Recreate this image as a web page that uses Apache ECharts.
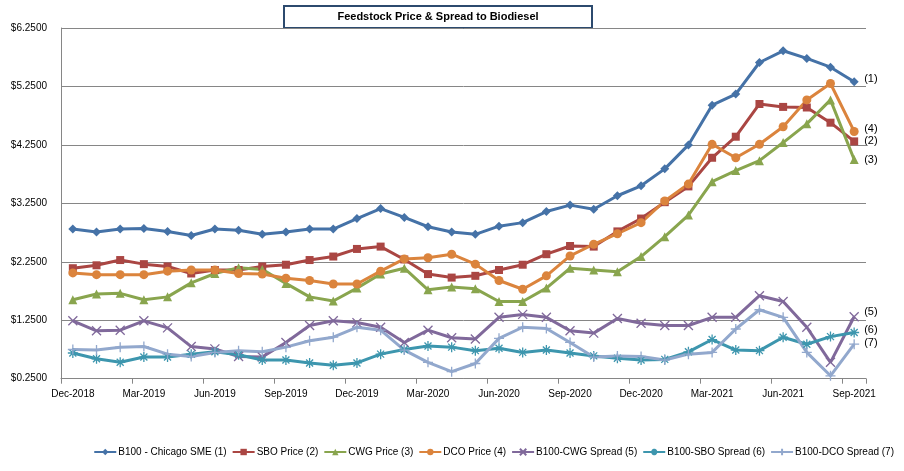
<!DOCTYPE html>
<html>
<head>
<meta charset="utf-8">
<script src="https://cdn.jsdelivr.net/npm/echarts@6/dist/echarts.min.js"></script>
<style>html,body{margin:0;padding:0;background:#fff;}#c{width:904px;height:471px;}</style>
</head>
<body>
<div id="c"></div>
<script>
const categories = ["Dec-2018","Jan-2019","Feb-2019","Mar-2019","Apr-2019","May-2019","Jun-2019","Jul-2019","Aug-2019","Sep-2019","Oct-2019","Nov-2019","Dec-2019","Jan-2020","Feb-2020","Mar-2020","Apr-2020","May-2020","Jun-2020","Jul-2020","Aug-2020","Sep-2020","Oct-2020","Nov-2020","Dec-2020","Jan-2021","Feb-2021","Mar-2021","Apr-2021","May-2021","Jun-2021","Jul-2021","Aug-2021","Sep-2021"];
const b100 = [2.81,2.76,2.81,2.82,2.77,2.70,2.81,2.79,2.72,2.76,2.81,2.81,2.99,3.16,3.01,2.85,2.76,2.72,2.86,2.92,3.11,3.22,3.15,3.38,3.55,3.84,4.25,4.93,5.12,5.66,5.86,5.73,5.58,5.33];
const sbo = [2.14,2.19,2.28,2.21,2.17,2.05,2.11,2.11,2.17,2.20,2.28,2.34,2.47,2.51,2.29,2.04,1.98,2.01,2.11,2.20,2.38,2.52,2.51,2.77,2.99,3.27,3.54,4.03,4.39,4.95,4.90,4.89,4.63,4.31];
const cwg = [1.60,1.70,1.71,1.60,1.65,1.89,2.05,2.15,2.12,1.88,1.65,1.58,1.80,2.04,2.14,1.77,1.82,1.79,1.57,1.57,1.80,2.14,2.11,2.08,2.34,2.68,3.05,3.62,3.81,3.98,4.29,4.61,5.02,4.00];
const dco = [2.06,2.03,2.03,2.03,2.09,2.11,2.11,2.05,2.04,1.97,1.93,1.87,1.87,2.09,2.30,2.32,2.38,2.21,1.93,1.78,2.01,2.35,2.55,2.73,2.92,3.29,3.58,4.26,4.03,4.26,4.56,5.02,5.30,4.48];
const spreadCwg = [1.24,1.07,1.08,1.24,1.12,0.80,0.76,0.63,0.62,0.87,1.16,1.24,1.21,1.13,0.87,1.08,0.95,0.93,1.30,1.35,1.30,1.07,1.03,1.28,1.20,1.16,1.16,1.30,1.30,1.67,1.57,1.13,0.53,1.31];
const spreadSbo = [0.69,0.59,0.53,0.62,0.62,0.67,0.71,0.66,0.57,0.57,0.52,0.48,0.52,0.67,0.75,0.81,0.79,0.73,0.77,0.70,0.74,0.69,0.64,0.60,0.57,0.58,0.71,0.92,0.74,0.73,0.96,0.84,0.97,1.04];
const spreadDco = [0.75,0.74,0.79,0.80,0.67,0.63,0.70,0.73,0.71,0.79,0.90,0.96,1.13,1.08,0.74,0.53,0.37,0.51,0.94,1.13,1.11,0.87,0.62,0.64,0.63,0.57,0.67,0.70,1.10,1.43,1.30,0.70,0.30,0.84];
const seriesNames = ["B100 - Chicago SME (1)","SBO Price (2)","CWG Price (3)","DCO Price (4)","B100-CWG Spread (5)","B100-SBO Spread (6)","B100-DCO Spread (7)"];
const endTags = ["(1)","(2)","(3)","(4)","(5)","(6)","(7)"];
const titleText = "Feedstock Price & Spread to Biodiesel";

const colors = ['#4572A7','#AA4643','#89A54E','#DB843D','#80699B','#3D96AE','#92A8CD'];
const xPath = 'path://M0,0L10,10M0,10L10,0';
const starPath = 'path://M5,0L5,10M0,5L10,5M1.5,1.5L8.5,8.5M1.5,8.5L8.5,1.5';
const plusPath = 'path://M5,0L5,10M0,5L10,5';
const symbols = ['diamond','rect','triangle','circle',xPath,starPath,plusPath];
const symSizes = [9,8,9,9,9,10,10];
const stroked = [false,false,false,false,true,true,true];
const labelOffsets = [[0,-3],[0,0],[0,0],[0,-2],[0,-5],[0,-3],[0,-1]];
const dataSets = [b100,sbo,cwg,dco,spreadCwg,spreadSbo,spreadDco];

const chart = echarts.init(document.getElementById('c'), null, {renderer:'canvas'});
const series = dataSets.map((d,i)=>({
  name: seriesNames[i],
  type: 'line',
  data: d,
  symbol: symbols[i],
  symbolSize: symSizes[i],
  showAllSymbol: true,
  lineStyle: {width: 3, color: colors[i]},
  itemStyle: stroked[i] ? {color: 'rgba(0,0,0,0)', borderColor: colors[i], borderWidth: 1.3} : {color: colors[i], borderWidth: 0},
  emphasis: {disabled: true},
  animation: false,
  endLabel: {show: true, formatter: endTags[i], distance: 10, offset: labelOffsets[i], color: '#000', fontSize: 11, fontFamily: 'Liberation Sans, Arial'}
}));

chart.setOption({
  animation: false,
  color: colors,
  grid: {left: 61, right: 38, top: 28, bottom: 92.3, containLabel: false},
  graphic: [{
    type: 'group', left: 283, top: 5,
    children: [
      {type:'rect', shape:{x:0,y:0,width:308,height:22}, style:{fill:'#fff', stroke:'#2C4A6E', lineWidth:2}},
      {type:'text', x:154, y:11, style:{text:titleText, align:'center', verticalAlign:'middle', font:'bold 11px "Liberation Sans", Arial', fill:'#000'}}
    ]
  }],
  legend: {
    bottom: 9, right: 5,
    itemWidth: 22, itemHeight: 8, itemGap: 5,
    textStyle: {fontSize: 10, fontFamily: 'Liberation Sans, Arial', color: '#000', padding: [0,0,0,-3]},
    data: seriesNames
  },
  xAxis: {
    type: 'category', data: categories, boundaryGap: true,
    axisLine: {lineStyle: {color: '#868686'}},
    axisTick: {show: true, interval: 2, length: 5, lineStyle: {color: '#868686'}},
    axisLabel: {interval: 2, color: '#000', fontSize: 10, fontFamily: 'Liberation Sans, Arial', margin: 11},
    splitLine: {show: false}
  },
  yAxis: {
    type: 'value', min: 0.25, max: 6.25, interval: 1,
    axisLine: {show: true, lineStyle: {color: '#868686'}},
    axisTick: {show: false},
    axisLabel: {color: '#000', fontSize: 10, fontFamily: 'Liberation Sans, Arial', margin: 14, formatter: v => '$' + v.toFixed(4)},
    splitLine: {lineStyle: {color: '#868686', width: 1}}
  },
  series: series
});
</script>
</body>
</html>
